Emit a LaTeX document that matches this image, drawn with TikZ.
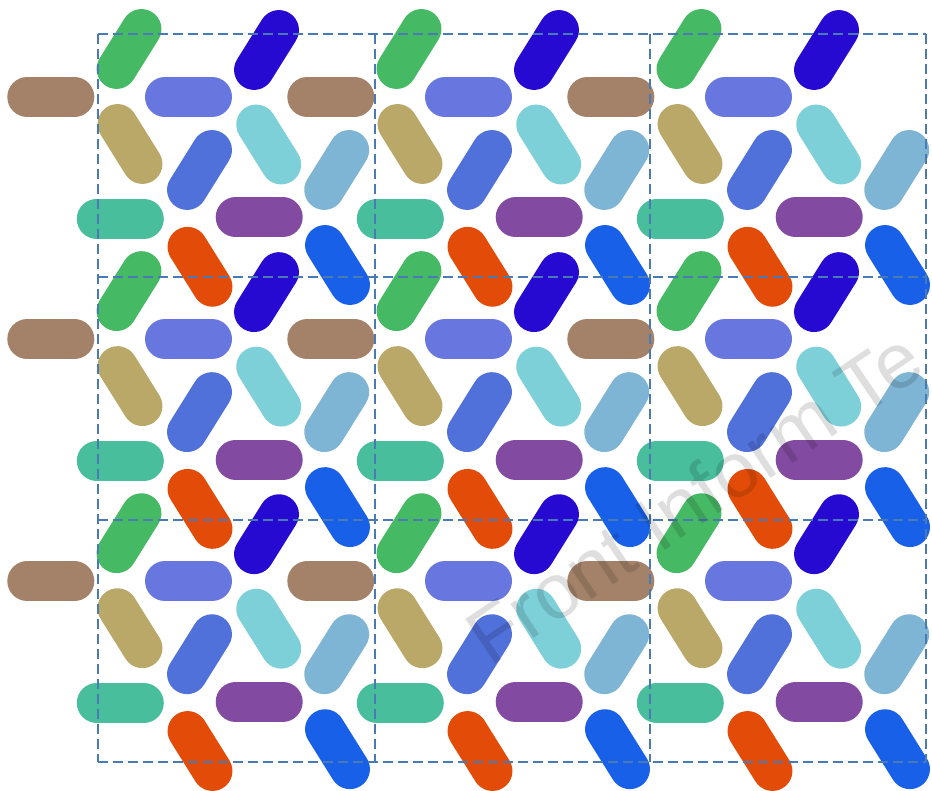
\documentclass[tikz,border=0pt]{standalone}
\usepackage{fontspec}
\newfontfamily\wmfont{Liberation Sans}
\definecolor{cGreen}{RGB}{70,185,100}
\definecolor{cIndigo}{RGB}{38,10,210}
\definecolor{cPeri}{RGB}{104,118,224}
\definecolor{cBrown}{RGB}{163,130,105}
\definecolor{cKhaki}{RGB}{185,168,104}
\definecolor{cRoyal}{RGB}{80,112,218}
\definecolor{cCyan}{RGB}{125,208,216}
\definecolor{cSteel}{RGB}{126,180,212}
\definecolor{cTeal}{RGB}{72,190,157}
\definecolor{cPurple}{RGB}{130,74,160}
\definecolor{cOrange}{RGB}{226,76,8}
\definecolor{cBlue}{RGB}{24,96,232}
\definecolor{gridblue}{RGB}{74,122,180}
\tikzset{
  pillstroke/.style={line width=40pt, line cap=round},
  gridline/.style={draw=gridblue, line width=2pt, dash pattern=on 10pt off 5pt},
}
\newcommand\pillat[4]{\draw[pillstroke,draw=#4,shift={(#1,#2)},rotate=#3] (-23.5,0) -- (23.5,0);}
\begin{document}
\begin{tikzpicture}[x=1pt,y=-1pt]
\useasboundingbox (0,0) rectangle (932,791);
\clip (0,0) rectangle (932,791);
\foreach \i in {0,1,2}{
  \foreach \j in {0,1,2}{
    \begin{scope}[shift={(280*\i,242.1*\j)}]
      \pillat{129}{49}{58}{cGreen}
      \pillat{266.5}{50}{58}{cIndigo}
      \pillat{188.5}{97}{0}{cPeri}
      \pillat{50.8}{97}{0}{cBrown}
      \pillat{130}{144}{-58}{cKhaki}
      \pillat{199.5}{170}{58}{cRoyal}
      \pillat{268.7}{144.5}{-58}{cCyan}
      \pillat{336.7}{170}{58}{cSteel}
      \pillat{120.3}{218.7}{0}{cTeal}
      \pillat{259.2}{217.5}{0}{cPurple}
      \pillat{200}{266.8}{-58}{cOrange}
      \pillat{337.5}{265}{-58}{cBlue}
    \end{scope}
  }
}
% dashed cell grid
\foreach \xx in {98,375,650,926}{
  \draw[gridline] (\xx,34) -- (\xx,762);
}
\foreach \yy in {34,277,520,762}{
  \draw[gridline] (98,\yy) -- (926,\yy);
}
% watermark
\node[anchor=base west, rotate=34, inner sep=0pt, text=black, text opacity=0.13,
      font=\wmfont\fontsize{78}{78}\selectfont] (wm) at (490,668) {Front Inform Te};
\end{tikzpicture}
\end{document}
